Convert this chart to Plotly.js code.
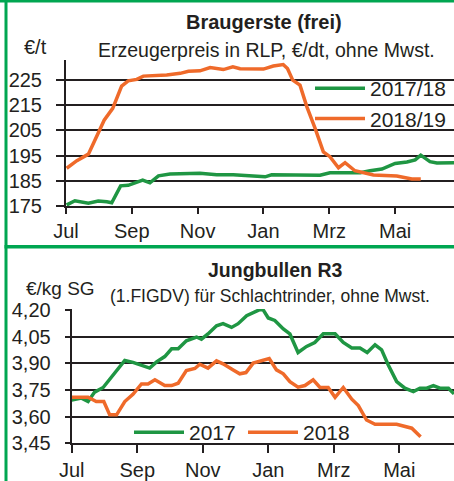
<!DOCTYPE html>
<html>
<head>
<meta charset="utf-8">
<script src="https://cdn.plot.ly/plotly-3.0.1.min.js"></script>
<style>html,body{margin:0;padding:0;background:#fff;}#chart{width:454px;height:481px;}</style>
</head>
<body>
<div id="chart"></div>
<script>
// ---- Data (x = months since start of July) ----
const monthTickVals = [0, 2, 4, 6, 8, 10];
const monthTickText = ['Jul', 'Sep', 'Nov', 'Jan', 'Mrz', 'Mai'];

// Braugerste (frei), €/t
const gersteLabels = ['2017/18', '2018/19'];
const gerste1718X = [0.02,0.27,0.68,0.98,1.24,1.39,1.66,1.89,2.33,2.55,2.81,3.16,4.07,4.58,5.08,5.59,6.05,6.25,7.72,8.02,8.94,9.24,9.60,10.0,10.36,10.61,10.78,11.06,11.27,11.79];
const gerste1718Y = [175.4,177.1,176.1,177.0,176.7,176.3,183.0,183.2,185.3,184.2,187.0,187.7,188.0,187.4,187.4,187.0,186.6,187.4,187.2,188.2,188.2,189.0,189.7,191.9,192.5,193.3,195.2,192.6,192.1,192.2];
const gerste1819X = [0.02,0.33,0.68,0.93,1.16,1.42,1.69,1.89,2.15,2.35,3.06,3.47,3.72,4.07,4.38,4.78,5.07,5.29,6.00,6.30,6.60,6.73,6.89,7.11,7.32,7.57,7.82,8.02,8.28,8.48,8.78,9.34,10.05,10.51,10.78];
const gerste1819Y = [190.0,193.0,195.6,202.5,209.1,213.8,222.6,224.7,225.3,226.6,227.0,227.7,228.5,228.7,230.0,229.2,230.3,229.5,229.4,230.6,231.2,229.6,225.0,223.0,214.4,205.8,196.5,194.6,190.2,192.2,189.0,187.3,186.9,185.7,185.7];
const gersteTicks = [175, 185, 195, 205, 215, 225];

// Jungbullen R3, €/kg SG
const bullenLabels = ['2017', '2018'];
const bullen2017X = [0,0.30,0.50,0.70,0.96,1.26,1.62,1.87,2.13,2.38,2.59,2.84,3.05,3.25,3.50,3.81,3.96,4.16,4.42,4.62,4.88,5.08,5.34,5.74,5.84,6.00,6.20,6.46,6.66,6.91,7.17,7.42,7.68,8.04,8.29,8.55,8.80,9.02,9.26,9.46,9.66,9.92,10.17,10.43,10.63,10.84,11.04,11.24,11.50,11.67];
const bullen2017Y = [3.694,3.704,3.685,3.738,3.764,3.835,3.916,3.905,3.886,3.873,3.908,3.938,3.982,3.982,4.027,4.048,4.036,4.065,4.111,4.123,4.102,4.123,4.168,4.202,4.202,4.155,4.141,4.093,4.065,3.961,3.995,4.017,4.066,4.066,4.017,3.986,3.986,3.961,4.004,3.976,3.892,3.797,3.760,3.741,3.760,3.760,3.775,3.760,3.760,3.728];
const bullen2018X = [0,0.50,0.75,0.98,1.16,1.37,1.62,1.87,2.13,2.33,2.54,2.84,3.05,3.25,3.50,3.76,3.91,4.16,4.42,4.62,4.93,5.13,5.32,5.54,6.03,6.25,6.46,6.66,6.91,7.12,7.37,7.58,7.83,8.04,8.29,8.55,8.75,9.00,9.26,9.92,10.38,10.65];
const bullen2018Y = [3.709,3.709,3.685,3.685,3.610,3.610,3.685,3.726,3.784,3.784,3.807,3.775,3.775,3.788,3.859,3.871,3.895,3.873,3.914,3.897,3.863,3.841,3.848,3.901,3.927,3.863,3.841,3.797,3.766,3.775,3.807,3.764,3.764,3.709,3.764,3.698,3.662,3.581,3.557,3.557,3.535,3.487];
const bullenTicks = [3.45, 3.60, 3.75, 3.90, 4.05, 4.20];

// ---- Styling ----
const GREEN = '#1f9643';
const ORANGE = '#ef6a2a';
const BORDER = '#00a651';
const INK = '#231f20';
const FONT = 'Liberation Sans, Arial, sans-serif';
const W = 454, H = 481;
const px = v => v / W;
const py = v => 1 - v / H;

const traces = [
  {x: gerste1718X, y: gerste1718Y, name: gersteLabels[0], type: 'scatter', mode: 'lines',
   line: {color: GREEN, width: 3.5}, xaxis: 'x', yaxis: 'y', legend: 'legend'},
  {x: gerste1819X, y: gerste1819Y, name: gersteLabels[1], type: 'scatter', mode: 'lines',
   line: {color: ORANGE, width: 3.5}, xaxis: 'x', yaxis: 'y', legend: 'legend'},
  {x: bullen2017X, y: bullen2017Y, name: bullenLabels[0], type: 'scatter', mode: 'lines',
   line: {color: GREEN, width: 3.5}, xaxis: 'x2', yaxis: 'y2', legend: 'legend2'},
  {x: bullen2018X, y: bullen2018Y, name: bullenLabels[1], type: 'scatter', mode: 'lines',
   line: {color: ORANGE, width: 3.5}, xaxis: 'x2', yaxis: 'y2', legend: 'legend2'}
];

const xCommon = {
  tickmode: 'array', tickvals: monthTickVals, ticktext: monthTickText,
  ticks: 'outside', tickwidth: 2, tickcolor: INK,
  showline: true, linecolor: INK, linewidth: 2,
  showgrid: false, zeroline: false, fixedrange: true,
  tickfont: {family: FONT, size: 20, color: INK}
};
const yCommon = {
  tickmode: 'array', ticks: 'outside', tickwidth: 2, tickcolor: INK,
  showline: true, linecolor: INK, linewidth: 2,
  showgrid: true, gridcolor: INK, gridwidth: 2,
  zeroline: false, fixedrange: true,
  tickfont: {family: FONT, size: 20, color: INK}
};

const layout = {
  width: W, height: H,
  margin: {l: 0, r: 0, t: 0, b: 0},
  paper_bgcolor: '#ffffff', plot_bgcolor: '#ffffff',
  separators: ',.',
  font: {family: FONT, color: INK},
  xaxis: Object.assign({}, xCommon, {domain: [px(66), 1], range: [0, 11.79], anchor: 'y', ticklen: 6}),
  yaxis: Object.assign({}, yCommon, {domain: [py(206), py(60)], range: [175, 233], anchor: 'x',
    tickvals: gersteTicks, ticklen: 8, ticklabelstandoff: 10}),
  xaxis2: Object.assign({}, xCommon, {domain: [px(71.7), 1], range: [0, 11.67], anchor: 'y2', ticklen: 8}),
  yaxis2: Object.assign({}, yCommon, {domain: [py(443.3), py(309.1)], range: [3.45, 4.205], anchor: 'x2',
    tickvals: bullenTicks, tickformat: '.2f', ticklen: 5, ticklabelstandoff: 10}),
  legend: {x: px(310), y: py(68), xanchor: 'left', yanchor: 'top', orientation: 'v', itemwidth: 50,
    tracegroupgap: 0, bgcolor: 'rgba(0,0,0,0)', borderwidth: 0, font: {family: FONT, size: 21, color: INK}},
  legend2: {x: px(129), y: py(412), xanchor: 'left', yanchor: 'top', orientation: 'h', itemwidth: 50,
    entrywidth: 49, entrywidthmode: 'pixels',
    bgcolor: 'rgba(0,0,0,0)', borderwidth: 0, font: {family: FONT, size: 21, color: INK}},
  annotations: [
    {text: '<b>Braugerste (frei)</b>', xref: 'paper', yref: 'paper', x: px(264), y: py(22),
     xanchor: 'center', yanchor: 'middle', showarrow: false, font: {family: FONT, size: 20, color: INK}},
    {text: '€/t', xref: 'paper', yref: 'paper', x: px(22), y: py(47),
     xanchor: 'left', yanchor: 'middle', showarrow: false, font: {family: FONT, size: 20, color: INK}},
    {text: 'Erzeugerpreis in RLP, €/dt, ohne Mwst.', xref: 'paper', yref: 'paper', x: px(266), y: py(50),
     xanchor: 'center', yanchor: 'middle', showarrow: false, font: {family: FONT, size: 19.5, color: INK}},
    {text: '<b>Jungbullen R3</b>', xref: 'paper', yref: 'paper', x: px(274.5), y: py(270),
     xanchor: 'center', yanchor: 'middle', showarrow: false, font: {family: FONT, size: 19.5, color: INK}},
    {text: '€/kg SG', xref: 'paper', yref: 'paper', x: px(24), y: py(288),
     xanchor: 'left', yanchor: 'middle', showarrow: false, font: {family: FONT, size: 19, color: INK}},
    {text: '(1.FIGDV) für Schlachtrinder, ohne Mwst.', xref: 'paper', yref: 'paper', x: px(270), y: py(296),
     xanchor: 'center', yanchor: 'middle', showarrow: false, font: {family: FONT, size: 17.5, color: INK}}
  ],
  shapes: [
    {type: 'rect', xref: 'paper', yref: 'paper', x0: 0, x1: 1, y0: py(2.5), y1: 1,
     fillcolor: BORDER, line: {width: 0}, layer: 'above'},
    {type: 'rect', xref: 'paper', yref: 'paper', x0: px(4.5), x1: px(7.5), y0: 0, y1: 1,
     fillcolor: BORDER, line: {width: 0}, layer: 'above'},
    {type: 'rect', xref: 'paper', yref: 'paper', x0: px(4.5), x1: 1, y0: py(248.5), y1: py(245),
     fillcolor: BORDER, line: {width: 0}, layer: 'above'}
  ]
};

Plotly.newPlot('chart', traces, layout, {displayModeBar: false, staticPlot: true});
</script>
</body>
</html>
